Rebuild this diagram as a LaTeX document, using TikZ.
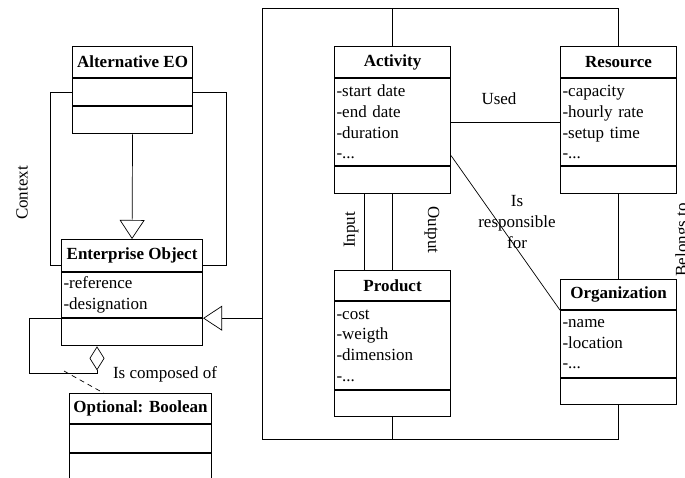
\documentclass[tikz,border=0pt]{standalone}
\usepackage{fontspec}
\setmainfont{Liberation Serif}
\usetikzlibrary{positioning,arrows.meta}
\newcommand{\umlfont}{\fontsize{17pt}{20.7pt}\selectfont}

\begin{document}
\begin{tikzpicture}[x=1pt, y=-1pt,
    box/.style={draw, line width=1.1pt, inner sep=0pt},
    ttl/.style={box, font=\umlfont\bfseries, minimum height=31pt},
    att/.style={box, font=\umlfont, align=left, inner xsep=2pt},
    ops/.style={box, minimum height=27pt},
    lbl/.style={font=\umlfont, inner sep=0pt},
    link/.style={line width=0.7pt},
    gen/.style={link, -{Triangle[open, length=19pt, width=25pt]}},
    aggr/.style={link, -{Diamond[open, length=24pt, width=15pt]}}]
    \useasboundingbox (0,0) rectangle (685,477);

    % alternative EO
    \node[ttl, minimum width=120pt, anchor=north west] (alt) at (72,46) {Alternative EO};
    \node[ops, minimum width=120pt, below=0pt of alt] (alt-a) {};
    \node[ops, minimum width=120pt, below=0pt of alt-a] (alt-o) {};

    % enterprise object
    \node[ttl, minimum width=141pt, minimum height=32pt, anchor=north west] (eo) at (61,239) {Enterprise Object};
    \node[att, text width=137pt, minimum height=45pt, below=0pt of eo] (eo-a) {-reference\\-designation};
    \node[ops, minimum width=141pt, below=0pt of eo-a] (eo-o) {};

    % optional
    \node[ttl, minimum width=142pt, minimum height=30pt, anchor=north west] (opt) at (69,393) {Optional: Boolean};
    \node[ops, minimum width=142pt, minimum height=28pt, below=0pt of opt] (opt-a) {};
    \node[ops, minimum width=142pt, minimum height=31pt, below=0pt of opt-a] (opt-o) {};

    % activity
    \node[ttl, minimum width=116pt, anchor=north west] (act) at (334,46) {Activity};
    \node[att, text width=112pt, minimum height=87pt, below=0pt of act] (act-a) {-start date\\-end date\\-duration\\-...};
    \node[ops, minimum width=116pt, below=0pt of act-a] (act-o) {};

    % resource
    \node[ttl, minimum width=116pt, anchor=north west] (res) at (560,46) {Resource};
    \node[att, text width=112pt, minimum height=87pt, below=0pt of res] (res-a) {-capacity\\-hourly rate\\-setup time\\-...};
    \node[ops, minimum width=116pt, below=0pt of res-a] (res-o) {};

    % product
    \node[ttl, minimum width=116pt, minimum height=30pt, anchor=north west] (prd) at (334,270) {Product};
    \node[att, text width=112pt, minimum height=88pt, below=0pt of prd] (prd-a) {-cost\\-weigth\\-dimension\\-...};
    \node[ops, minimum width=116pt, minimum height=26pt, below=0pt of prd-a] (prd-o) {};

    % organization
    \node[ttl, minimum width=116pt, minimum height=30pt, anchor=north west] (org) at (560,279) {Organization};
    \node[att, text width=112pt, minimum height=67pt, below=0pt of org] (org-a) {-name\\-location\\-...};
    \node[ops, minimum width=116pt, minimum height=26pt, below=0pt of org-a] (org-o) {};

    % context
    \draw[gen] (alt-o.south) -- (eo.north);
    \draw[link] (alt-a.west) -- ++(-22,0) |- ([yshift=-10pt]eo.west);
    \draw[link] (alt-a.east) -- ++(33,0) |- ([yshift=-10pt]eo.east);
    \node[lbl, rotate=90] (ctx) at (22,193) {Context};

    % composition
    \coordinate (agg) at ([xshift=36pt]eo-o.south west);
    \coordinate (cmp) at (64,371);
    \draw[aggr] (eo-a.south west) -- ++(-32,0) -- ++(0,55) -| (agg);
    \draw[link, dash pattern=on 5pt off 4pt] (cmp) -- ([xshift=-37pt]opt.north);
    \node[lbl] (cmp-l) at (165,374) {Is composed of};

    % frame round the four classes
    \coordinate (tl) at (262,8);
    \coordinate (bl) at (262,439);
    \draw[link] (res.north) |- (tl) -- (bl) -| (org-o.south);
    \draw[link] (act.north) -- (act.north |- tl);
    \draw[link] (prd-o.south) -- (prd-o.south |- bl);
    \draw[gen] (bl |- eo-a.south) -- (eo-a.south east);

    % associations
    \draw[link] (act-a) -- (res-a);
    \node[lbl] (used) at (499,99) {Used};
    \draw[link] ([yshift=-33.5pt]act-a.east) -- (org-a.north west);
    \node[lbl, align=center] (resp) at (517,222) {Is\\responsible\\for};
    \draw[link] ([xshift=-28pt]act-o.south) -- ([xshift=-28pt]prd.north);
    \draw[link] (act-o.south) -- (prd.north);
    \node[lbl, rotate=90] (inp) at (351,230) {Input};
    \node[lbl, rotate=-90] (outp) at (432,230) {Output};
    \draw[link] (res-o.south) -- (org.north);
    \node[lbl, rotate=90] (blg) at (683,240) {Belongs to};
\end{tikzpicture}
\end{document}
